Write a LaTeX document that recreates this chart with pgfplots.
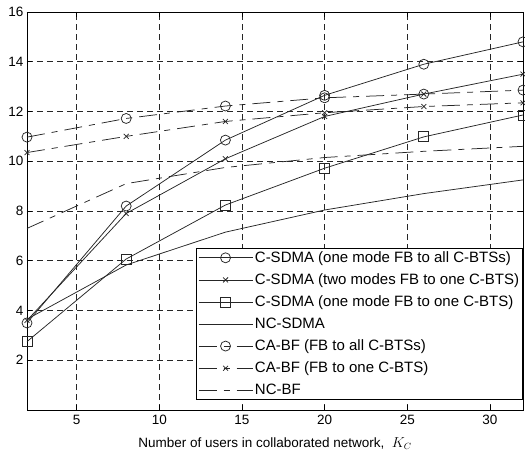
\documentclass[border=0pt]{standalone}
\usepackage{fontspec}
\setmainfont{Liberation Sans}
\usepackage{pgfplots}
\pgfplotsset{compat=1.18}

\begin{document}
\begin{tikzpicture}[x=1pt,y=1pt]
\begin{axis}[
    name=ax,
    scale only axis,
    width=496pt, height=398pt,
    xmin=2, xmax=32, ymin=0, ymax=16,
    xtick={5,10,15,20,25,30},
    ytick={2,4,6,8,10,12,14,16},
    tick align=inside,
    major tick length=5pt,
    every tick/.style={black, line width=0.6pt},
    axis line style={black, line width=0.8pt},
    grid=major,
    major grid style={black!85, line width=0.7pt, dash pattern=on 6pt off 4pt},
    tick label style={font=\fontsize{13.5}{15}\selectfont},
    xticklabel style={yshift=-2pt},
    /pgf/number format/assume math mode=true,
    xlabel={Number of users in collaborated network,\ \ $K_{C}$},
    xlabel style={font=\fontsize{13.5}{15}\selectfont, yshift=-6pt},
    legend cell align=left,
    legend style={at={(1,0.025)}, anchor=south east, draw=black, line width=0.7pt,
        font=\fontsize{15}{17}\selectfont, inner sep=1.5pt,
        row sep=5.8pt, fill=white},
    legend image code/.code={
        \draw[mark repeat=2, mark phase=2, #1]
        plot coordinates {(0pt,0pt) (27pt,0pt) (54pt,0pt)};
    },
    every axis plot/.append style={black!85, line width=0.75pt},
    ]
\addplot[mark=o, mark size=5pt, mark options={solid}] coordinates
    {(2,3.5) (8,8.2) (14,10.85) (20,12.65) (26,13.9) (32,14.8)};
\addlegendentry{C-SDMA (one mode FB to all C-BTSs)}
\addplot[mark=x, mark size=3.5pt, mark options={solid}] coordinates
    {(2,3.6) (8,7.9) (14,10.1) (20,11.8) (26,12.7) (32,13.5)};
\addlegendentry{C-SDMA (two modes FB to one C-BTS)}
\addplot[mark=square, mark size=5pt, mark options={solid}] coordinates
    {(2,2.75) (8,6.07) (14,8.24) (20,9.72) (26,10.98) (32,11.86)};
\addlegendentry{C-SDMA (one mode FB to one C-BTS)}
\addplot[no marks] coordinates
    {(2,3.65) (8,5.83) (14,7.15) (20,8.04) (26,8.7) (32,9.25)};
\addlegendentry{NC-SDMA}
\addplot[mark=o, mark size=5pt, mark options={solid}, dash pattern=on 18pt off 7pt on 6pt off 7pt] coordinates
    {(2,10.97) (8,11.72) (14,12.22) (20,12.55) (26,12.7) (32,12.86)};
\addlegendentry{CA-BF (FB to all C-BTSs)}
\addplot[mark=x, mark size=3.5pt, mark options={solid}, dash pattern=on 18pt off 7pt on 6pt off 7pt] coordinates
    {(2,10.35) (8,11.0) (14,11.6) (20,11.95) (26,12.2) (32,12.35)};
\addlegendentry{CA-BF (FB to one C-BTS)}
\addplot[no marks, dash pattern=on 18pt off 7pt on 6pt off 7pt] coordinates
    {(2,7.3) (8,9.1) (14,9.75) (20,10.15) (26,10.4) (32,10.6)};
\addlegendentry{NC-BF}
\end{axis}
\pgfresetboundingbox
\path ([shift={(-27pt,-45pt)}]ax.south west) rectangle ([shift={(2pt,12pt)}]ax.north east);
\end{tikzpicture}
\end{document}
